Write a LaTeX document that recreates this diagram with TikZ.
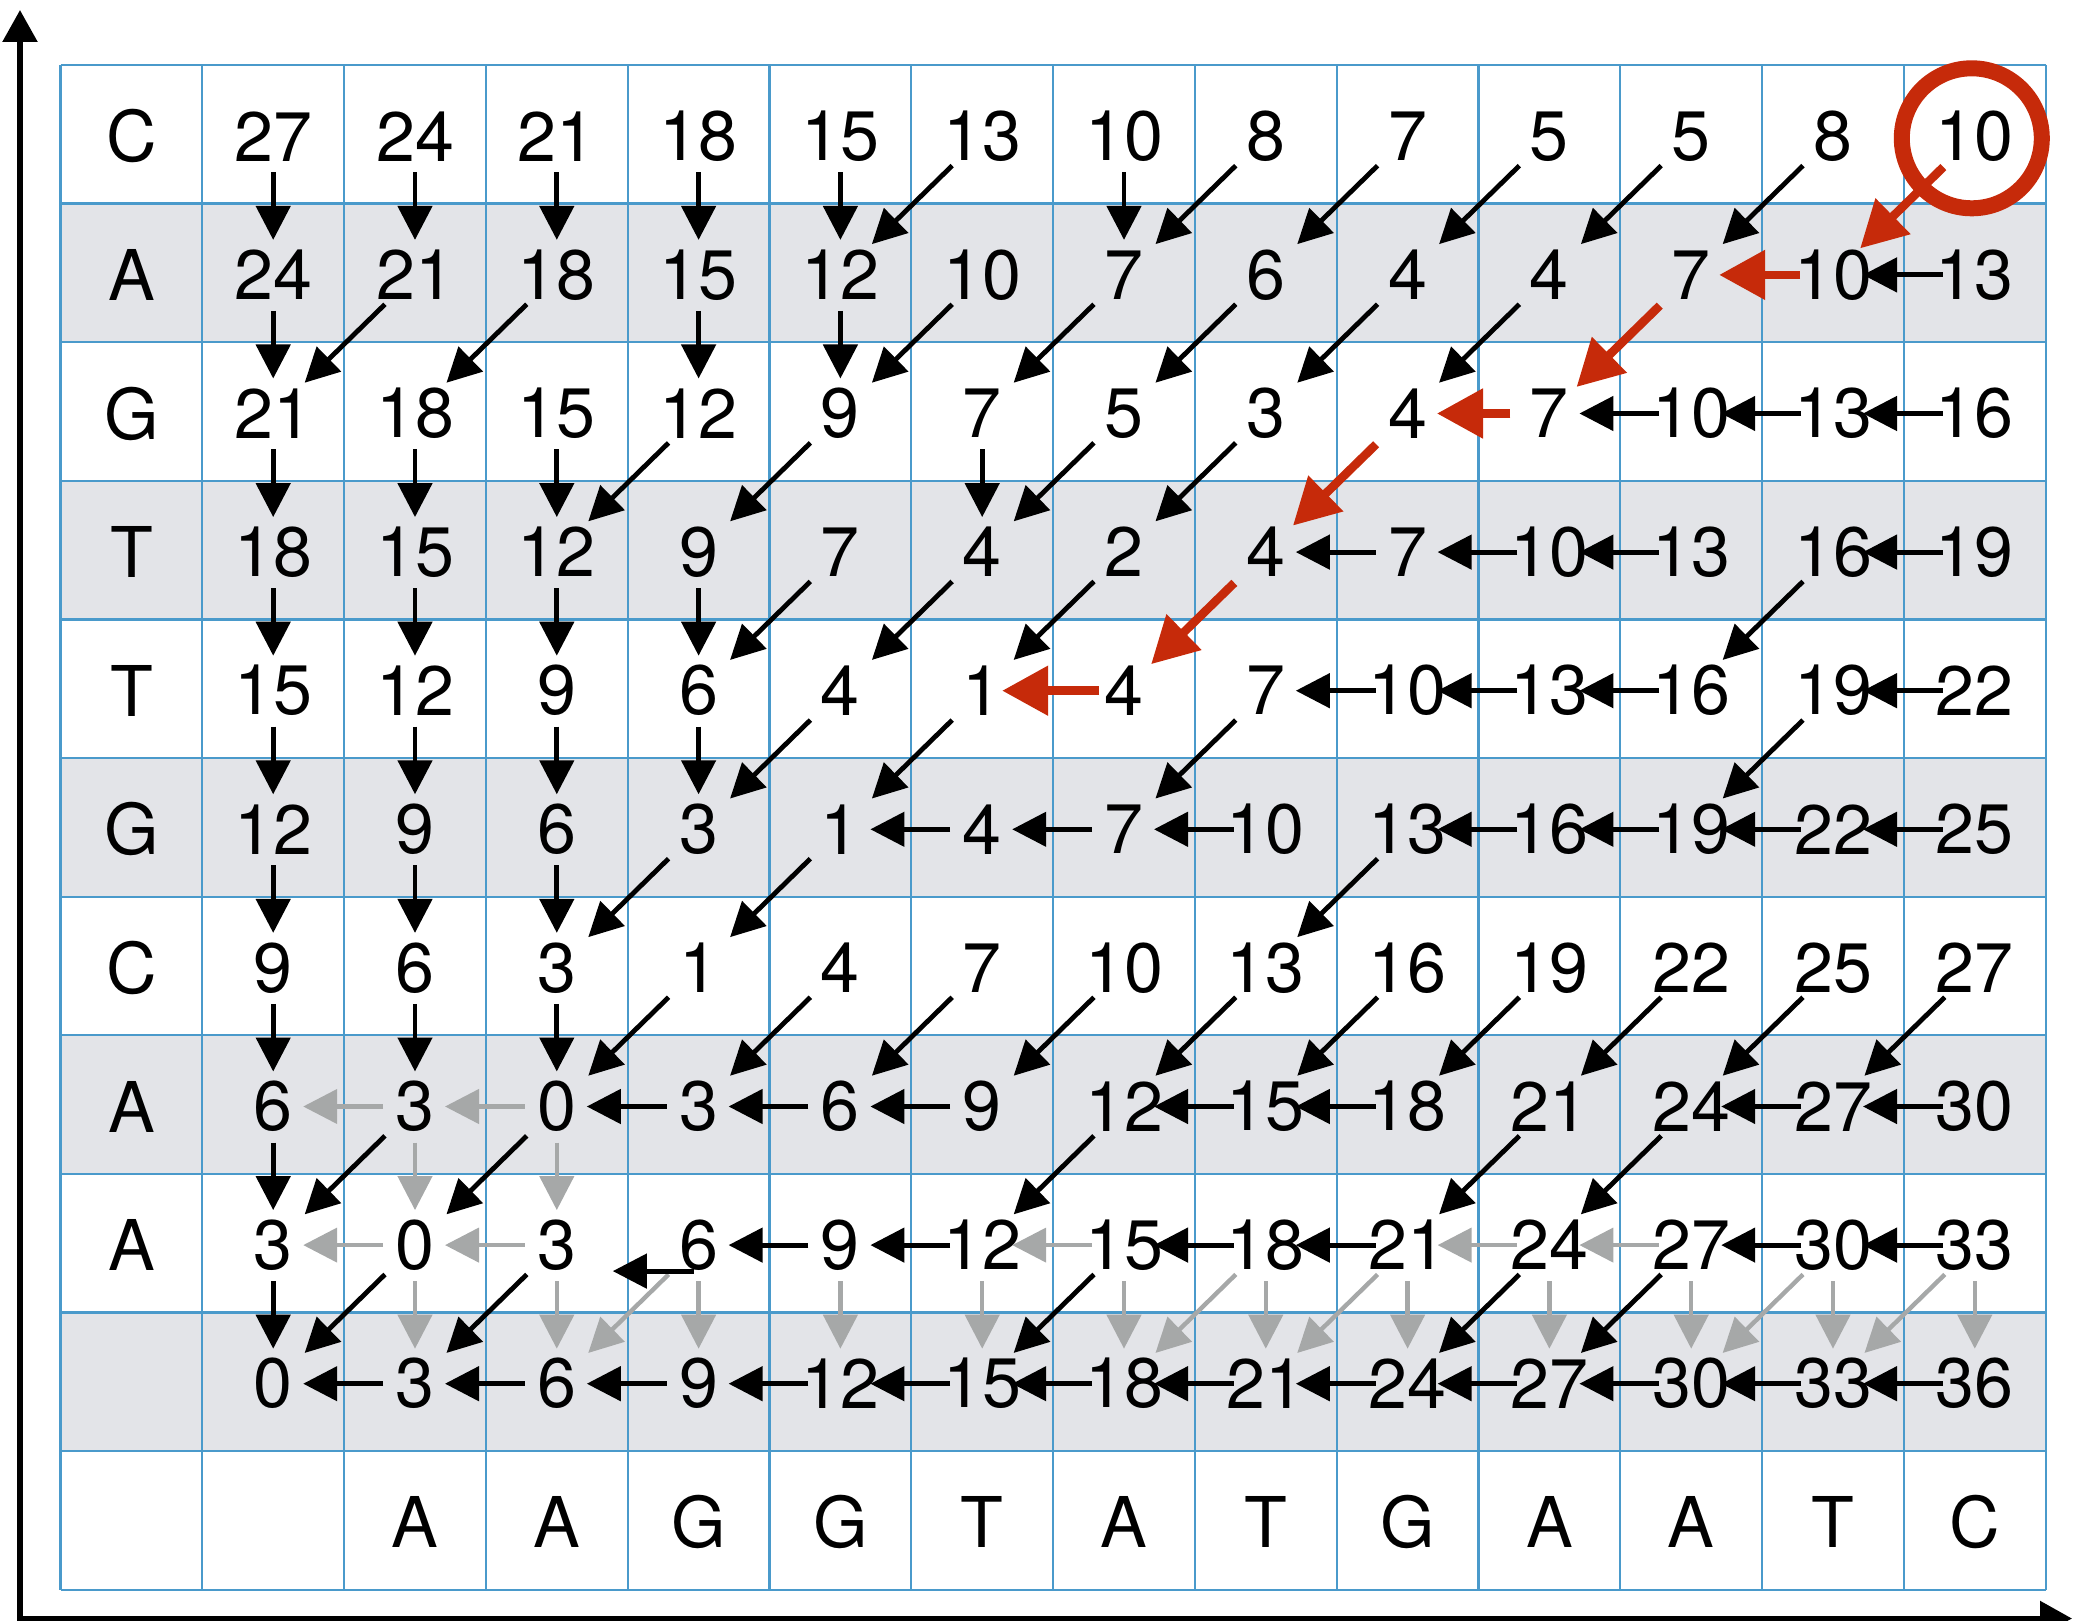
\documentclass[tikz,border=0pt]{standalone}
\usepackage{fontspec}
\setmainfont{TeX Gyre Heros}
\usetikzlibrary{arrows.meta}
\definecolor{gridblue}{HTML}{4A9ACB}
\definecolor{rowgray}{HTML}{E3E4E8}
\definecolor{arrgray}{HTML}{A6A8A8}
\definecolor{tracered}{HTML}{C62A0A}
\newcommand\dprow[2]{\foreach \v [count=\c] in {#2} {\node[cell] (n-#1-\c) at ({60.5+141.8*(\c+0.5)},{67+138.6*(#1+0.5)}) {\v};}}
\begin{document}
\begin{tikzpicture}[x=0.5pt,y=-0.5pt,
  cell/.style={font=\fontsize{35}{40}\selectfont, inner sep=0pt},
  gridline/.style={draw=gridblue, line width=1.1pt},
  axisline/.style={draw=black, line width=2.8pt, line join=miter, {Triangle[width=17pt,length=16pt]}-{Triangle[width=17pt,length=16pt]}},
  blk/.style={draw=black, line width=2.4pt, -{Triangle[width=17pt,length=17pt]}},
  gry/.style={draw=arrgray, line width=2.2pt, -{Triangle[width=17pt,length=17pt]}},
  trc/.style={draw=tracered, line width=4.3pt, -{Triangle[width=24pt,length=23pt]}},
  dn/.style={shorten <=18pt, shorten >=17.5pt},
  lf/.style={shorten <=16pt, shorten >=15pt},
  dg/.style={shorten <=21pt, shorten >=22pt},
  rdg/.style={shorten <=22pt, shorten >=19pt}]
\useasboundingbox (0,0) rectangle (2074,1621);
% shaded rows
\foreach \r in {1,3,5,7,9}
  \fill[rowgray] (60.5,{65+138.6*\r}) rectangle (2045.7,{65+138.6*(\r+1)});
% grid
\foreach \i in {0,...,14}
  \draw[gridline] ({60.5+141.8*\i},65) -- ({60.5+141.8*\i},1589.6);
\foreach \j in {0,...,11}
  \draw[gridline] (60.5,{65+138.6*\j}) -- (2045.7,{65+138.6*\j});
% axes
\coordinate (ytop) at (20,10);
\coordinate (orig) at (20,1618.5);
\coordinate (xend) at (2072,1618.5);
\draw[axisline] (ytop) -- (orig) -- (xend);
% row labels
\foreach \l [count=\i from 0] in {C,A,G,T,T,G,C,A,A}
  \node[cell] (L-\i) at (131.4,{67+138.6*(\i+0.5)}) {\l};
% column labels
\foreach \l [count=\c from 2] in {A,A,G,G,T,A,T,G,A,A,T,C}
  \node[cell] (B-\c) at ({60.5+141.8*(\c+0.5)},{67+138.6*10.5}) {\l};
% values
\dprow{0}{27,24,21,18,15,13,10,8,7,5,5,8,10}
\dprow{1}{24,21,18,15,12,10,7,6,4,4,7,10,13}
\dprow{2}{21,18,15,12,9,7,5,3,4,7,10,13,16}
\dprow{3}{18,15,12,9,7,4,2,4,7,10,13,16,19}
\dprow{4}{15,12,9,6,4,1,4,7,10,13,16,19,22}
\dprow{5}{12,9,6,3,1,4,7,10,13,16,19,22,25}
\dprow{6}{9,6,3,1,4,7,10,13,16,19,22,25,27}
\dprow{7}{6,3,0,3,6,9,12,15,18,21,24,27,30}
\dprow{8}{3,0,3,6,9,12,15,18,21,24,27,30,33}
\dprow{9}{0,3,6,9,12,15,18,21,24,27,30,33,36}
% gray arrows
\foreach \r/\c in {7/2,7/3,8/2,8/3,8/7,8/10,8/11}{
  \pgfmathtruncatemacro\cc{\c-1}
  \draw[gry,lf] (n-\r-\c.center) -- (n-\r-\cc.center);}
\foreach \r/\c in {7/2,7/3,8/2,8/3,8/4,8/5,8/6,8/7,8/8,8/9,8/10,8/11,8/12,8/13}{
  \pgfmathtruncatemacro\rr{\r+1}
  \draw[gry,dn] (n-\r-\c.center) -- (n-\rr-\c.center);}
\foreach \r/\c in {8/4,8/8,8/9,8/12,8/13}{
  \pgfmathtruncatemacro\rr{\r+1}
  \pgfmathtruncatemacro\cc{\c-1}
  \draw[gry,dg] (n-\r-\c.center) -- (n-\rr-\cc.center);}
% black arrows: down
\foreach \r/\c in {0/1,0/2,0/3,0/4,0/5,0/7,1/1,1/4,1/5,2/1,2/2,2/3,2/6,3/1,3/2,3/3,3/4,4/1,4/2,4/3,4/4,5/1,5/2,5/3,6/1,6/2,6/3,7/1,8/1}{
  \pgfmathtruncatemacro\rr{\r+1}
  \draw[blk,dn] (n-\r-\c.center) -- (n-\rr-\c.center);}
% black arrows: diagonal
\foreach \r/\c in {0/6,0/8,0/9,0/10,0/11,0/12,1/2,1/3,1/6,1/7,1/8,1/9,1/10,2/4,2/5,2/7,2/8,3/5,3/6,3/7,3/12,4/5,4/6,4/8,4/12,5/4,5/5,5/9,6/4,6/5,6/6,6/7,6/8,6/9,6/10,6/11,6/12,6/13,7/2,7/3,7/7,7/10,7/11,8/2,8/3,8/7,8/10,8/11}{
  \pgfmathtruncatemacro\rr{\r+1}
  \pgfmathtruncatemacro\cc{\c-1}
  \draw[blk,dg] (n-\r-\c.center) -- (n-\rr-\cc.center);}
% black arrows: left
\foreach \r/\c in {1/13,2/11,2/12,2/13,3/9,3/10,3/11,3/13,4/9,4/10,4/11,4/13,5/6,5/7,5/8,5/10,5/11,5/12,5/13,7/4,7/5,7/6,7/8,7/9,7/12,7/13,8/5,8/6,8/8,8/9,8/12,8/13,9/2,9/3,9/4,9/5,9/6,9/7,9/8,9/9,9/10,9/11,9/12,9/13}{
  \pgfmathtruncatemacro\cc{\c-1}
  \draw[blk,lf] (n-\r-\c.center) -- (n-\r-\cc.center);}
% stray left arrow under the 6
\draw[blk] ([shift={(-5,26)}]n-8-4.center) -- ([shift={(56,26)}]n-8-3.center);
% traceback (red)
\draw[tracered, line width=8pt] ([shift={(-3,2)}]n-0-13.center) circle[radius=70];
\draw[trc,rdg] (n-0-13.center) -- (n-1-12.center);
\draw[trc,shorten <=16.5pt,shorten >=14pt] (n-1-12.center) -- (n-1-11.center);
\draw[trc,rdg] (n-1-11.center) -- (n-2-10.center);
\draw[trc,shorten <=19.5pt,shorten >=14.7pt] (n-2-10.center) -- (n-2-9.center);
\draw[trc,rdg] (n-2-9.center) -- (n-3-8.center);
\draw[trc,rdg] (n-3-8.center) -- (n-4-7.center);
\draw[trc,shorten <=12.5pt,shorten >=10pt] (n-4-7.center) -- (n-4-6.center);
\end{tikzpicture}
\end{document}
